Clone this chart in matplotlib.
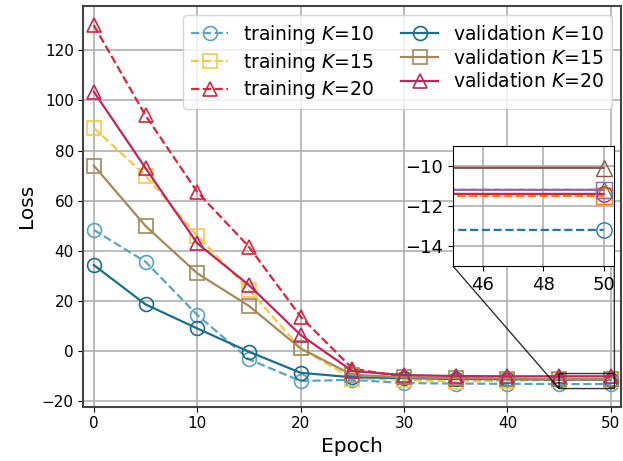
import matplotlib
matplotlib.use("Agg")
import matplotlib.pyplot as plt

epochs = [0, 5, 10, 15, 20, 25, 30, 35, 40, 45, 50]

train_k10 = [48.3, 35.6, 14.4, -3.3, -12.0, -11.5, -12.8, -13.0, -13.1, -13.2, -13.2]
train_k15 = [89.0, 70.0, 46.0, 24.5, 1.0, -11.0, -11.5, -12.3, -11.8, -11.5, -11.5]
train_k20 = [130.0, 94.0, 63.5, 41.6, 13.7, -7.0, -10.5, -11.0, -11.2, -11.2, -11.2]
val_k10 = [34.3, 18.6, 9.0, -0.3, -8.7, -10.5, -10.8, -11.2, -11.3, -11.4, -11.4]
val_k15 = [74.0, 49.9, 31.0, 18.0, 1.0, -9.5, -10.5, -10.8, -11.0, -11.2, -11.2]
val_k20 = [103.5, 73.0, 43.0, 26.3, 6.4, -8.0, -9.6, -10.0, -10.1, -10.1, -10.1]

labels = [r"training $K$=10", r"training $K$=15", r"training $K$=20",
          r"validation $K$=10", r"validation $K$=15", r"validation $K$=20"]
series = [train_k10, train_k15, train_k20, val_k10, val_k15, val_k20]
colors = ["#5ba4c4", "#f7c948", "#d7263d", "#1b6f8a", "#a68a5b", "#c2255c"]
markers = ["o", "s", "^", "o", "s", "^"]
styles = ["--", "--", "--", "-", "-", "-"]

fig = plt.figure(figsize=(6.23, 4.61), dpi=100)
ax = fig.add_axes([0.134, 0.118, 0.863, 0.869])

for y, lab, c, m, ls in zip(series, labels, colors, markers, styles):
    ax.plot(epochs, y, ls, color=c, marker=m, markersize=10, mfc="none",
            mew=1.2, lw=1.6, label=lab)

ax.set_xlim(-1, 51)
ax.set_ylim(-22.2, 137.7)
ax.set_xlabel("Epoch", fontsize=14.5)
ax.set_ylabel("Loss", fontsize=14.5)
ax.tick_params(labelsize=11)
ax.grid(True, color="#b0b0b0", lw=1.2)
for s in ax.spines.values():
    s.set_color("#444444")
    s.set_linewidth(1.5)

ax.legend(loc="upper right", ncol=2, fontsize=13.5, handlelength=2,
          columnspacing=1.4, labelspacing=0.25, borderaxespad=0.5)

# zoomed view of the last epochs, default colour cycle
axins = ax.inset_axes([0.687, 0.351, 0.3, 0.3])
for y, m, ls in zip(series, markers, styles):
    axins.plot(epochs, y, ls, marker=m, markersize=11, mfc="none", lw=1.6,
               markevery=[10])
axins.set_xlim(45, 50.35)
axins.set_ylim(-15, -9)
axins.set_xticks([46, 48, 50])
axins.set_yticks([-14, -12, -10])
axins.tick_params(labelsize=13)
axins.grid(True, color="#b0b0b0", lw=1.2)
ax.indicate_inset_zoom(axins, edgecolor="black", alpha=0.8)

fig.savefig("out.png", dpi=100)
